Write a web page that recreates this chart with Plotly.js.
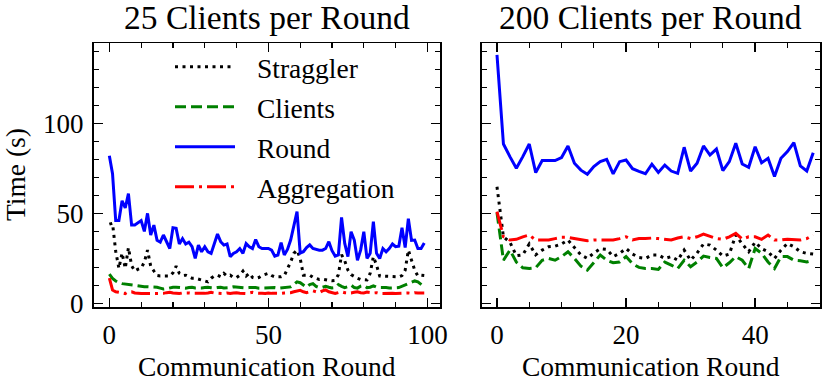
<!DOCTYPE html>
<html>
<head>
<meta charset="utf-8">
<script src="https://cdn.plot.ly/plotly-3.0.1.min.js"></script>
<style>html,body{margin:0;padding:0;background:#fff;}#chart{width:829px;height:384px;}</style>
</head>
<body>
<div id="chart"></div>
<script>
// ---- data ----
const panelTitles = ["25 Clients per Round", "200 Clients per Round"];
const seriesNames = ["Straggler", "Clients", "Round", "Aggregation"];
const xTitle = "Communication Round";
const yTitle = "Time (s)";

// 25 clients per round (rounds 0..99)
const left_straggler = [44,44.5,29,19.5,28,19.5,31,21,18,19,19.5,23,29.6,20.7,18,15.5,15.2,15.2,15.5,15.2,17,20.7,16.7,15.5,15.7,15,14,14,13.5,13.3,12.5,12,14,15.2,15.6,14.8,16.7,15.2,15.7,14.4,14.4,15.7,18,15.2,16.7,14.4,13.9,14.4,15.5,16,16.7,15.5,14.8,14.8,14.8,15.5,18.9,23,27.8,29.6,25,15.7,15.7,15.7,14.5,13.9,13.3,13.5,13,12.8,12.6,12.8,16,27,23.7,18.5,16,14.8,14,13.3,13.2,13,16.7,26,21.3,15.2,15.2,15.2,15.2,15.2,15,14.8,15.5,18.5,29.6,24,18.5,15.2,15.7,15.5];
const left_clients = [16.3,13.9,12.5,11.5,11,10.7,10.5,10.2,10,9.8,9.5,9.3,9.3,9.3,9.3,9,8.5,8,8.2,8.8,9,9,8.8,8.8,8.5,8.8,9,8.6,8.5,8.6,8.8,9,8.7,8.5,8.8,9,8.6,8.6,8.8,9.2,9,8.7,8.5,8.6,8.8,9,8.8,8.5,8.6,8.8,8.5,8.6,8.8,8.5,8.6,8.8,9,9.2,10.5,12,11.5,10,9,10.5,11,9.5,8.8,9,9.5,9,8.6,8.8,10.5,9.5,8.8,9.3,10.2,8.8,8.5,9.6,10,8.8,9,9.8,9,8.8,9,8.8,8.6,8.5,8.7,8.8,9.5,10,11,11.8,12.5,12,10.5,9.2];
const left_round = [82,72,46,46,57,53,61,43.5,43.5,45,46,40,50,38,43.5,35,34,38,34,30.5,42,41.7,33,36,33,34,31.5,25,32.4,28.7,31.5,28.7,27.8,33.3,38.5,34.3,32.4,33,26,27.8,28.7,30.5,27.8,33.3,31.5,30.5,35.5,31.5,30.5,30.5,30.5,29.6,26.3,26.9,33.7,26.9,30,35.2,43,51,28,28.7,31,32.5,30.5,30,29.6,29.6,30.5,34.3,29.3,26.3,26.9,47.8,33.3,26,39.8,35.2,24,29.6,39.8,25,27.8,45.4,27.8,25,30.5,28.7,30.5,33,31.5,31.8,42,31,47,35,35.2,30.5,30.5,33.5];
const left_aggregation = [14,7.5,6.5,6.3,6,5.5,6.5,6.5,5.8,5.5,5.5,5.5,5.5,5.5,5.5,5.7,5.8,5.6,6,6.2,5.8,5.5,5.5,5.8,6,5.8,5.6,5.5,5.8,5.5,5.6,5.8,6.2,5.8,5.6,5.5,5.5,5.8,5.5,5.8,6,5.7,5.5,5.5,5.8,6.2,5.8,5.5,5.6,5.5,5.8,5.6,5.5,5.5,5.6,5.8,5.8,6,6.5,7,7.3,6.5,6,6.5,7,6.5,6,7,7.5,6.5,5.8,5.5,6,6.5,6,5.8,5.8,6.2,6.5,6,5.8,6.3,6,5.8,6,5.5,5.5,5.6,5.8,5.6,5.5,5.6,5.8,6,5.8,5.6,6,5.8,5.6,5.8];

// 200 clients per round (rounds 0..49)
const right_straggler = [64.8,37,34,26.5,27,33,27,29.6,31.5,31.8,33,35.2,31,27,25,28,30.4,30,26,27.8,30.5,27.4,25.5,25,26.9,26.9,25,26,24,29.6,24,28,33,32.4,29.6,26.3,27.4,38,33,28.7,34,30.5,28.7,25,29.6,33.3,31.5,28.7,27.8,27.4];
const right_clients = [50.4,24,29.6,23,19.8,19.4,19.8,24,25,24,26,28.7,25,20.7,18.5,23,26.9,24,22.6,23,26,22,20,19.4,19.4,18.9,23,21.3,19.4,24,20.4,23,26.3,25.5,25,19.8,22.6,26,24,19.4,30.5,27.8,23,19.4,26,26,24,23.7,23,24];
const right_round = [138,88.5,81.5,75,81.5,88.5,72.6,79.3,79.3,79.3,81,87.4,77.8,74,71.7,76,78.7,80,71.9,78.7,79.6,74.8,73.3,72,77.3,72.7,76.8,73.5,72.2,86.7,73.5,77.8,87.4,82.4,85.7,73.7,78.7,88.9,77.4,75.6,87,78.1,80.6,70.4,80.6,84.3,89.3,76.3,73.5,83.7];
const right_aggregation = [51,37,35.2,35.6,37,38,35.2,35.2,35.2,36,36.7,36.7,36,35.2,34.8,35.2,35.2,35.6,35.2,36,37,35.2,36,36,36.3,36,35.7,35.2,36.3,37,36,37,38.5,37.4,36,35.6,37,38.9,35.7,37,37,35.6,38,35.2,35.2,35.7,35.6,35.2,36,38];

// ---- styles ----
const FONT = "Liberation Serif";
const LW = 3;
const styles = [
  {color: "#000000", dash: "3px,4.5px"},
  {color: "#008000", dash: "11px,5px"},
  {color: "#0000ff", dash: "solid"},
  {color: "#ff0000", dash: "19px,5px,3px,5px"}
];

const leftSeries = [left_straggler, left_clients, left_round, left_aggregation];
const rightSeries = [right_straggler, right_clients, right_round, right_aggregation];
const idx = arr => arr.map((_, i) => i);

const traces = [];
leftSeries.forEach((s, k) => traces.push({
  type: "scatter", mode: "lines", x: idx(s), y: s, name: seriesNames[k],
  xaxis: "x", yaxis: "y", showlegend: false,
  line: {color: styles[k].color, width: LW, dash: styles[k].dash}
}));
rightSeries.forEach((s, k) => traces.push({
  type: "scatter", mode: "lines", x: idx(s), y: s, name: seriesNames[k],
  xaxis: "x2", yaxis: "y2", showlegend: false,
  line: {color: styles[k].color, width: LW, dash: styles[k].dash}
}));

const W = 829, H = 384;
const px = v => v / W, py = v => 1 - v / H;

function axisBase(extra) {
  return Object.assign({
    showline: true, linecolor: "black", linewidth: 1.8, mirror: "ticks",
    ticks: "inside", ticklen: 9, tickwidth: 1.3, tickcolor: "black",
    showgrid: false, zeroline: false, fixedrange: true,
    tickfont: {family: FONT, size: 27, color: "black"}
  }, extra);
}

const yDomain = [1 - 306.7 / H, 1 - 43.3 / H];

const layout = {
  width: W, height: H,
  font: {family: FONT, color: "black"},
  margin: {l: 0, r: 0, t: 0, b: 0},
  paper_bgcolor: "white", plot_bgcolor: "white",
  showlegend: false,
  xaxis: axisBase({domain: [px(93.6), px(440)], range: [-4.95, 103.95], anchor: "y",
    tickmode: "linear", tick0: 0, dtick: 50, ticklabelstandoff: 3,
    minor: {ticks: "inside", ticklen: 5, tickwidth: 1.2, tickcolor: "black", dtick: 10, tick0: 0, showgrid: false}}),
  xaxis2: axisBase({domain: [px(481.5), px(820)], range: [-2.4, 50.05], anchor: "y2",
    tickmode: "linear", tick0: 0, dtick: 20, ticklabelstandoff: 3,
    minor: {ticks: "inside", ticklen: 5, tickwidth: 1.2, tickcolor: "black", dtick: 5, tick0: 0, showgrid: false}}),
  yaxis: axisBase({domain: yDomain, range: [-1.8, 144.4], anchor: "x",
    tickmode: "linear", tick0: 0, dtick: 50, ticklabelstandoff: 3,
    minor: {ticks: "inside", ticklen: 5, tickwidth: 1.2, tickcolor: "black", dtick: 10, tick0: 0, showgrid: false}}),
  yaxis2: axisBase({domain: yDomain, range: [-1.8, 144.4], anchor: "x2", matches: "y",
    tickmode: "linear", tick0: 0, dtick: 50, showticklabels: false,
    minor: {ticks: "inside", ticklen: 5, tickwidth: 1.2, tickcolor: "black", dtick: 10, tick0: 0, showgrid: false}}),
  annotations: [],
  shapes: []
};

// titles
layout.annotations.push({text: panelTitles[0], xref: "paper", yref: "paper", x: px(266.8), y: py(17),
  xanchor: "center", yanchor: "middle", showarrow: false, font: {family: FONT, size: 33.5, color: "black"}});
layout.annotations.push({text: panelTitles[1], xref: "paper", yref: "paper", x: px(650.7), y: py(17),
  xanchor: "center", yanchor: "middle", showarrow: false, font: {family: FONT, size: 33.5, color: "black"}});
// axis titles
layout.annotations.push({text: xTitle, xref: "paper", yref: "paper", x: px(266.8), y: py(366),
  xanchor: "center", yanchor: "middle", showarrow: false, font: {family: FONT, size: 27.5, color: "black"}});
layout.annotations.push({text: xTitle, xref: "paper", yref: "paper", x: px(650.7), y: py(366),
  xanchor: "center", yanchor: "middle", showarrow: false, font: {family: FONT, size: 27.5, color: "black"}});
layout.annotations.push({text: yTitle, xref: "paper", yref: "paper", x: px(15), y: py(175),
  xanchor: "center", yanchor: "middle", textangle: -90, showarrow: false, font: {family: FONT, size: 27.5, color: "black"}});

// legend (manual, inside left panel)
const legY = [66.7, 106.7, 146.7, 186.7];
seriesNames.forEach((name, k) => {
  layout.shapes.push({type: "line", xref: "paper", yref: "paper",
    x0: px(175), x1: px(235), y0: py(legY[k]), y1: py(legY[k]),
    line: {color: styles[k].color, width: LW, dash: styles[k].dash}});
  layout.annotations.push({text: name, xref: "paper", yref: "paper", x: px(255), y: py(legY[k] + 2),
    xanchor: "left", yanchor: "middle", showarrow: false, font: {family: FONT, size: 27.5, color: "black"}});
});

Plotly.newPlot("chart", traces, layout, {staticPlot: true, displayModeBar: false});
</script>
</body>
</html>
